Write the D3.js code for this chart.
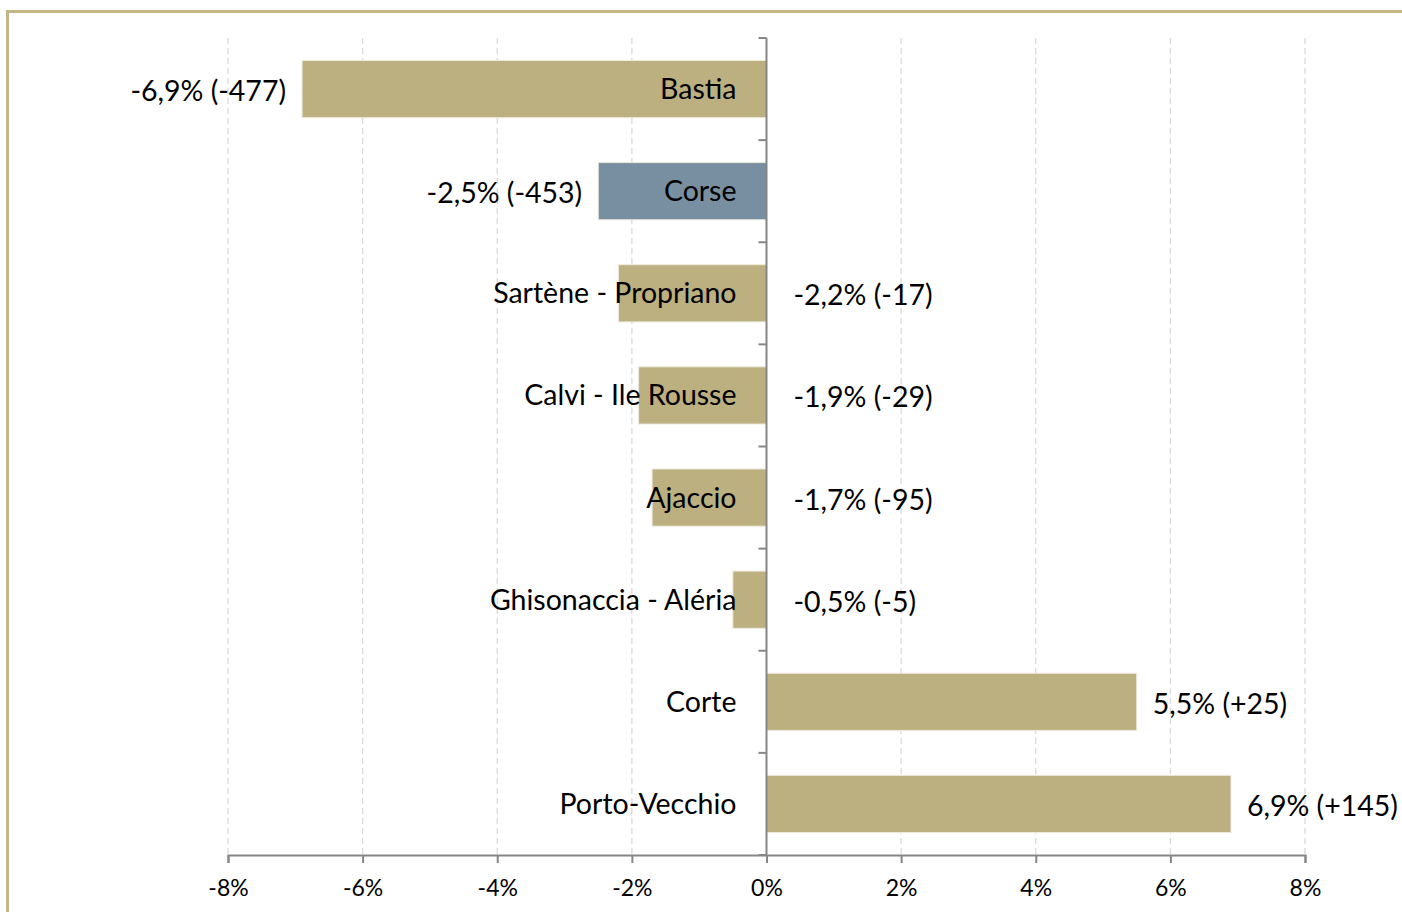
<!DOCTYPE html>
<html>
<head>
<meta charset="utf-8">
<script src="https://cdn.jsdelivr.net/npm/d3@7"></script>
<style>
  body { margin: 0; background: #fff; }
  svg { display: block; font-family: Lato, "Open Sans", sans-serif; }
</style>
</head>
<body>
<svg id="chart" width="1402" height="912"></svg>
<script>
'use strict';

// data
var categories = ['Bastia', 'Corse', 'Sartène - Propriano', 'Calvi - Ile Rousse',
                  'Ajaccio', 'Ghisonaccia - Aléria', 'Corte', 'Porto-Vecchio'];
var pctChange = [-6.9, -2.5, -2.2, -1.9, -1.7, -0.5, 5.5, 6.9];
var absChange = [-477, -453, -17, -29, -95, -5, 25, 145];
var xTicks = [-8, -6, -4, -2, 0, 2, 4, 6, 8];

var gold = '#bcaf80', steel = '#778fa0';

var svg = d3.select('#chart');

// frame
svg.append('path')
    .attr('d', 'M7.5,912 L7.5,11.5 L1402,11.5')
    .attr('fill', 'none')
    .attr('stroke', '#c4b687')
    .attr('stroke-width', 3);

var margin = {top: 38, left: 228},
    width = 1305 - 228,
    height = 855 - 38;

var x = d3.scaleLinear().domain([-8, 8]).range([0, width]);
var y = d3.scaleBand().domain(categories).range([0, height]).paddingInner(0.44).paddingOuter(0.22);

var chart = svg.append('g')
    .attr('transform', 'translate(' + margin.left + ',' + margin.top + ')');

// gridlines
chart.selectAll('.grid')
    .data(xTicks.filter(function(d) { return d !== 0; }))
    .enter().append('line')
    .attr('x1', function(d) { return x(d); })
    .attr('x2', function(d) { return x(d); })
    .attr('y1', 0)
    .attr('y2', height)
    .attr('stroke', '#d9d9d9')
    .attr('stroke-width', 1.3)
    .attr('stroke-dasharray', '6,4');

// bars
chart.selectAll('.bar')
    .data(categories)
    .enter().append('rect')
    .attr('x', function(d, i) { return x(Math.min(0, pctChange[i])); })
    .attr('y', function(d) { return y(d); })
    .attr('width', function(d, i) { return Math.abs(x(pctChange[i]) - x(0)); })
    .attr('height', y.bandwidth())
    .attr('fill', function(d) { return d === 'Corse' ? steel : gold; })
    .attr('stroke', '#eeeadc')
    .attr('stroke-width', 1);

// X axis
var xAxis = chart.append('g')
    .attr('transform', 'translate(0,' + height + ')')
    .call(d3.axisBottom(x).tickValues(xTicks).tickSize(8).tickPadding(17)
        .tickFormat(function(d) { return d + '%'; }));
xAxis.select('.domain').attr('stroke', '#868686').attr('stroke-width', 2);
xAxis.selectAll('.tick line').attr('stroke', '#868686').attr('stroke-width', 2);
xAxis.selectAll('text').attr('font-size', 23).attr('fill', '#000')
    .attr('font-family', 'Lato, sans-serif');

// Y axis at zero with ticks between categories
var step = height / categories.length;
chart.append('line')
    .attr('x1', x(0)).attr('x2', x(0))
    .attr('y1', 0).attr('y2', height)
    .attr('stroke', '#868686').attr('stroke-width', 2);
chart.selectAll('.ytick')
    .data(d3.range(categories.length + 1))
    .enter().append('line')
    .attr('x1', x(0) - 8).attr('x2', x(0))
    .attr('y1', function(i) { return i * step; })
    .attr('y2', function(i) { return i * step; })
    .attr('stroke', '#868686').attr('stroke-width', 2);

// category labels
chart.selectAll('.cat')
    .data(categories)
    .enter().append('text')
    .attr('x', x(0) - 30)
    .attr('y', function(d) { return y(d) + y.bandwidth() / 2; })
    .attr('dy', '0.35em')
    .attr('text-anchor', 'end')
    .attr('font-size', 28.5)
    .text(function(d) { return d; });

// value labels
function fmt(v) { return (v < 0 ? '-' : '') + Math.abs(v).toFixed(1).replace('.', ','); }
function fmtAbs(v) { return v > 0 ? '+' + v : '' + v; }

chart.selectAll('.val')
    .data(categories)
    .enter().append('text')
    .attr('x', function(d, i) {
        var v = pctChange[i];
        if (v <= -2.5) return x(v) - 16;
        if (v < 0) return x(0) + 27;
        return x(v) + 16;
    })
    .attr('y', function(d) { return y(d) + y.bandwidth() / 2 + 2; })
    .attr('dy', '0.35em')
    .attr('text-anchor', function(d, i) { return pctChange[i] <= -2.5 ? 'end' : 'start'; })
    .attr('font-size', 28.5)
    .text(function(d, i) { return fmt(pctChange[i]) + '% (' + fmtAbs(absChange[i]) + ')'; });
</script>
</body>
</html>
